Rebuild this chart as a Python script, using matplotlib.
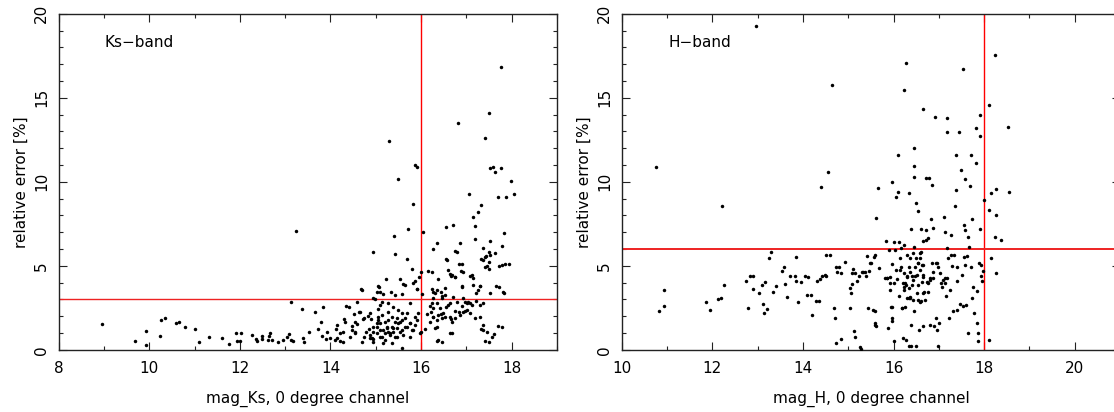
import matplotlib
matplotlib.use('Agg')
import matplotlib.pyplot as plt
from matplotlib.ticker import MultipleLocator

plt.rcParams['font.family'] = 'DejaVu Sans'
plt.rcParams['font.size'] = 11

# Ks-band: magnitude vs relative error [%]
ks_mag = [
    8.96, 9.69, 9.92, 9.94, 10.23, 10.25, 10.34, 10.59, 10.65, 10.80, 11.00, 11.10, 11.31, 11.60,
    11.76, 11.92, 11.94, 12.03, 12.00, 12.27, 12.35, 12.37, 12.49, 12.50, 12.63, 12.65, 12.67, 12.71,
    12.84, 12.96, 13.04, 13.08, 13.12, 13.14, 13.18, 13.25, 13.37, 13.40, 13.42, 13.53, 13.65, 13.73,
    13.80, 13.82, 13.84, 13.90, 13.93, 14.00, 14.12, 14.14, 14.20, 14.27, 14.29, 14.35, 14.43, 14.47,
    14.51, 14.55, 14.59, 14.63, 14.67, 14.71, 14.75, 14.78, 14.82, 14.86, 14.90, 14.93, 14.94, 14.98,
    15.02, 15.04, 15.06, 15.10, 15.14, 15.22, 15.30, 15.33, 15.40, 15.43, 15.49, 15.53, 15.57, 15.61,
    15.69, 15.71, 15.80, 15.83, 15.87, 15.92, 15.87, 15.92, 15.96, 16.00, 16.04, 16.02, 16.16, 16.24,
    16.27, 16.35, 16.37, 16.43, 16.47, 16.55, 16.55, 16.63, 16.67, 16.71, 16.75, 16.75, 16.81, 16.83,
    16.86, 16.88, 16.90, 17.06, 17.07, 17.14, 17.18, 17.20, 17.25, 17.29, 17.33, 17.33, 17.37, 17.41,
    17.43, 17.45, 17.49, 17.51, 17.53, 17.53, 17.59, 17.63, 17.65, 17.69, 17.73, 17.77, 17.77, 17.79,
    17.80, 17.83, 17.88, 17.86, 17.98, 18.04, 17.69, 17.61, 17.41, 17.33, 17.29, 17.22, 16.98, 16.90,
    16.83, 16.75, 16.67, 16.63, 16.55, 16.43, 16.35, 16.35, 16.27, 16.20, 16.12, 16.08, 16.00,
    14.70, 15.07, 15.17, 14.95, 14.58, 14.40, 15.10, 15.28, 15.43, 15.39, 15.50, 15.65, 15.83, 15.91,
    15.76, 15.68, 15.87, 15.54, 15.35, 15.20, 15.06, 14.95, 14.87, 14.73, 14.65, 14.54, 14.47, 14.32,
    14.21, 14.14, 14.10, 14.28, 14.54, 14.69, 14.91, 14.95, 15.02, 15.10, 15.13, 15.20, 15.24, 15.28,
    15.32, 15.35, 15.39, 15.43, 15.46, 15.50, 15.57, 15.61, 15.57, 15.68, 15.76, 15.79, 15.87, 15.91,
    15.94, 15.35, 14.87, 15.76, 15.98, 15.17, 15.02, 15.13, 15.28, 15.57, 15.65, 15.46,
    16.79, 17.41, 17.52, 17.63, 17.37, 17.49, 17.78, 17.93, 17.41, 17.49, 16.57, 16.90, 16.93, 16.60,
    16.68, 16.75, 17.12, 17.15, 16.53, 16.24, 16.35, 16.27, 16.31, 16.53, 16.90, 17.15, 17.30, 17.26,
    17.22, 17.52, 17.71, 17.82, 16.71, 16.93, 16.97, 17.01, 17.04, 17.08, 16.79, 16.64, 16.60, 16.46,
    16.24, 16.27, 16.42, 16.49, 16.38, 16.27, 16.35, 16.46, 16.53, 16.64, 16.68, 16.75, 16.86, 16.93,
    17.01, 17.08, 17.19, 17.37, 17.37, 17.37, 17.45, 17.49, 17.56, 17.78, 16.31, 16.38, 16.46, 16.68,
    16.20, 16.22, 16.27, 16.35, 17.12, 17.30,
    15.02, 15.10, 15.17, 15.24, 15.32, 15.39, 15.10, 15.20, 15.46, 15.54, 15.65, 15.76, 15.83, 14.95,
    14.87, 15.28, 15.43, 15.57, 15.06,
]
ks_err = [
    1.53, 0.50, 0.28, 1.09, 0.83, 1.78, 1.88, 1.57, 1.65, 1.33, 1.23, 0.44, 0.77, 0.67,
    0.36, 0.97, 0.50, 0.97, 0.50, 0.89, 0.63, 0.50, 0.83, 0.63, 0.60, 0.83, 0.99, 0.60,
    0.44, 0.60, 0.73, 0.93, 2.81, 0.60, 0.50, 7.08, 2.42, 0.67, 0.44, 1.03, 2.22, 1.23,
    1.63, 0.83, 2.52, 0.63, 1.03, 0.67, 1.23, 0.67, 0.54, 1.03, 1.82, 2.62, 0.73, 1.43,
    2.12, 1.03, 1.53, 2.22, 3.61, 1.82, 0.73, 1.03, 2.02, 1.23, 1.82, 5.79, 0.63, 3.00,
    3.41, 3.77, 2.42, 3.41, 2.81, 4.20, 12.43, 3.41, 6.78, 5.69, 10.15, 4.20, 3.31, 3.90,
    5.39, 7.18, 4.80, 8.66, 11.00, 10.88, 4.10, 3.61, 4.30, 4.60, 6.98, 3.31, 4.70, 3.61,
    5.99, 6.38, 4.20, 3.41, 3.21, 5.39, 7.28, 4.50, 4.40, 7.42, 4.30, 5.89, 13.50, 5.09,
    6.38, 4.70, 3.81, 9.26, 4.40, 7.87, 6.58, 7.38, 8.17, 3.81, 8.60, 5.39, 6.08, 12.63,
    5.59, 5.00, 5.79, 14.10, 6.48, 10.80, 10.90, 10.60, 3.77, 9.06, 5.00, 10.80, 16.85, 6.20,
    3.41, 6.94, 9.06, 5.09, 10.05, 9.26, 1.39, 0.93, 0.54, 1.23, 1.92, 2.91, 2.32, 2.62,
    2.22, 2.32, 1.82, 0.99, 2.52, 2.12, 1.33, 0.54, 1.92, 2.62, 2.12, 1.23, 1.03,
    3.55, 3.71, 3.31, 3.06, 2.86, 2.52, 2.66, 2.76, 3.26, 2.56, 2.36, 3.85, 3.99, 3.60,
    2.76, 2.17, 1.96, 1.67, 1.96, 1.67, 1.77, 1.37, 2.17, 1.87, 2.26, 1.67, 1.17, 1.67,
    0.98, 1.47, 0.58, 0.48, 0.98, 0.48, 0.68, 0.48, 0.98, 1.17, 0.77, 0.98, 1.27, 1.07,
    0.88, 1.37, 1.07, 0.77, 1.27, 1.57, 1.17, 0.88, 0.08, 1.37, 1.57, 1.17, 1.47, 1.77,
    2.17, 0.38, 0.88, 0.77, 0.98, 0.38, 1.57, 2.07, 2.26, 2.17, 1.87, 1.87,
    5.83, 5.54, 5.64, 5.74, 5.34, 5.24, 5.04, 5.10, 4.94, 4.79, 5.34, 5.10, 4.64, 4.74,
    4.45, 4.35, 4.45, 4.25, 3.65, 4.64, 3.55, 3.45, 3.36, 3.26, 3.71, 3.85, 3.79, 3.55,
    3.36, 3.36, 3.71, 3.36, 3.15, 3.06, 2.86, 2.80, 2.86, 2.80, 2.86, 2.76, 2.66, 3.06,
    2.76, 2.46, 2.46, 2.17, 2.07, 1.96, 1.77, 1.87, 1.96, 1.96, 1.67, 1.87, 2.07, 2.26,
    2.36, 2.17, 1.87, 2.80, 1.47, 1.17, 1.07, 0.48, 0.77, 1.37, 1.27, 0.58, 0.48, 0.98,
    1.67, 2.26, 3.06, 2.76, 2.66, 2.66,
    1.37, 1.57, 1.17, 1.37, 0.98, 1.27, 0.77, 0.58, 0.77, 1.07, 1.37, 1.57, 1.17, 1.07,
    0.68, 1.77, 1.67, 1.77, 1.96,
]

# H-band: magnitude vs relative error [%]
h_mag = [
    10.75, 10.83, 10.94, 10.94, 11.86, 11.94, 12.12, 12.20, 12.22, 12.26, 12.75, 12.79, 12.83, 12.89,
    12.89, 12.97, 13.03, 13.09, 13.11, 13.14, 13.16, 13.20, 13.24, 13.30, 13.33, 13.40, 13.54, 13.58,
    13.60, 13.65, 13.71, 13.83, 13.84, 13.85, 13.89, 13.95, 14.05, 14.09, 14.11, 14.17, 14.21, 14.28,
    14.32, 14.36, 14.38, 14.40, 14.43, 14.48, 14.50, 14.52, 14.56, 14.60, 14.64, 14.68, 14.70, 14.73,
    14.74, 14.75, 14.80, 14.83, 14.85, 14.93, 15.03, 15.04, 15.07, 15.08, 15.09, 15.11, 15.13, 15.15,
    15.16, 15.19, 15.23, 15.27, 15.29, 15.31, 15.33, 15.37, 15.39, 15.42, 15.44, 15.46, 15.48, 15.51,
    15.57, 15.58, 15.58, 15.60, 15.61, 15.62, 15.66, 15.68, 15.82, 15.83, 15.86, 15.87, 15.90, 15.92,
    15.93, 15.95, 15.96, 15.97, 15.97, 15.97, 16.00, 16.01, 16.03, 16.05, 16.05, 16.08, 16.09, 16.09,
    16.11, 16.13, 16.15, 16.16, 16.17, 16.19, 16.21, 16.21, 16.23, 16.23, 16.23, 16.25, 16.27, 16.27,
    16.28, 16.29, 16.30, 16.33, 16.33, 16.34, 16.37, 16.37, 16.38, 16.39, 16.39, 16.41, 16.42, 16.45,
    16.45, 16.45, 16.45, 16.46, 16.47, 16.49, 16.49, 16.50, 16.53, 16.55, 16.55, 16.56, 16.58, 16.60,
    16.60, 16.60, 16.63, 16.64, 16.64, 16.66, 16.66, 16.68, 16.71, 16.72, 16.72, 16.75, 16.76, 16.79,
    16.80, 16.80, 16.82, 16.84, 16.86, 16.88, 16.89, 16.92, 16.93, 16.94, 16.96, 16.98, 16.99, 17.01,
    17.04, 17.08, 17.11, 17.13, 17.14, 17.15, 17.17, 17.18, 17.19, 17.21, 17.23, 17.26, 17.27, 17.29,
    17.31, 17.33, 17.35, 17.37, 17.37, 17.39, 17.41, 17.41, 17.45, 17.47, 17.49, 17.51, 17.53, 17.53,
    17.55, 17.56, 17.57, 17.58, 17.58, 17.60, 17.62, 17.64, 17.65, 17.66, 17.68, 17.70, 17.70, 17.73,
    17.74, 17.76, 17.78, 17.81, 17.82, 17.84, 17.85, 17.86, 17.86, 17.89, 17.90, 17.90, 17.90, 17.94,
    17.94, 17.96, 17.98, 18.00, 18.10, 18.10, 18.11, 18.14, 18.14, 18.23, 18.25, 18.27, 18.27, 18.27,
    18.37, 18.53, 18.55,
    16.22, 16.29, 16.36, 16.44, 16.51, 16.59, 16.66, 16.73, 16.81, 16.25, 16.33, 16.22, 16.40, 16.55,
    16.62, 16.47, 16.55, 16.66, 16.59, 16.33, 16.14, 15.92, 15.85, 16.00, 17.10, 17.14, 17.17, 17.25,
    17.03, 16.88, 16.84, 16.95, 16.36, 16.44, 16.51, 16.66, 16.77, 16.59, 16.70, 16.29, 16.18, 15.96,
    15.59, 15.55,
]
h_err = [
    10.85, 2.32, 3.56, 2.63, 2.81, 2.38, 3.01, 3.07, 8.55, 3.86, 4.06, 2.51, 4.36, 4.36,
    3.64, 19.27, 3.35, 3.84, 2.73, 2.18, 4.04, 2.42, 5.45, 5.84, 3.45, 3.80, 4.71, 4.95,
    3.90, 3.11, 4.36, 4.36, 5.54, 4.06, 2.83, 4.02, 4.36, 3.23, 4.32, 3.23, 2.08, 2.87,
    4.10, 2.87, 4.22, 9.66, 4.36, 4.46, 5.66, 4.36, 10.59, 5.64, 15.74, 2.48, 1.88, 0.40,
    4.95, 4.61, 4.95, 0.63, 4.55, 5.21, 2.48, 3.70, 3.37, 4.55, 3.90, 4.79, 1.13, 0.75,
    4.59, 4.06, 4.36, 0.14, 0.04, 4.65, 4.65, 4.65, 4.36, 5.60, 2.51, 4.71, 5.15, 5.15,
    5.52, 5.64, 2.28, 1.58, 1.39, 7.82, 9.60, 4.89, 4.26, 6.50, 4.26, 1.29, 5.94, 4.00,
    3.56, 2.57, 1.88, 10.00, 5.11, 1.68, 6.44, 0.50, 5.94, 9.11, 4.75, 4.20, 9.37, 11.58,
    3.17, 6.44, 5.45, 4.95, 6.04, 2.48, 3.96, 0.69, 15.45, 6.24, 3.76, 2.57, 17.09, 3.86,
    0.59, 4.36, 5.64, 3.07, 0.24, 9.31, 5.45, 3.07, 1.49, 7.19, 0.20, 4.36, 5.78, 2.28,
    11.98, 10.95, 10.30, 6.14, 4.36, 8.71, 0.20, 5.45, 5.15, 8.28, 2.97, 1.19, 5.78, 5.84,
    2.87, 7.17, 5.05, 4.46, 1.39, 6.50, 14.30, 3.41, 6.53, 10.20, 7.13, 3.96, 6.63, 10.20,
    4.26, 1.49, 7.76, 9.80, 7.27, 4.26, 1.39, 13.86, 5.15, 1.88, 1.19, 4.95, 0.20, 1.58,
    3.96, 3.76, 7.92, 4.26, 6.99, 3.17, 13.80, 12.97, 6.04, 5.45, 1.88, 6.83, 5.64, 4.99,
    2.28, 5.64, 8.55, 9.50, 11.58, 4.06, 2.34, 4.95, 12.97, 2.71, 10.69, 4.46, 2.61, 16.73,
    5.50, 7.43, 7.13, 10.18, 5.05, 2.67, 5.58, 0.99, 6.69, 6.14, 9.74, 4.95, 11.60, 3.07,
    7.76, 3.76, 2.18, 13.17, 11.09, 3.47, 1.58, 0.99, 0.50, 5.15, 13.96, 7.17, 12.73, 5.05,
    4.36, 4.06, 4.71, 8.91, 14.55, 8.32, 0.59, 5.45, 9.31, 6.69, 17.52, 9.54, 8.02, 4.55,
    6.53, 13.23, 9.41,
    4.55, 4.35, 4.64, 4.15, 4.45, 4.74, 4.35, 4.05, 4.15, 3.95, 3.65, 3.55, 3.85, 3.85,
    4.05, 4.94, 5.14, 5.04, 5.44, 4.94, 4.74, 4.35, 4.25, 3.95, 4.15, 3.95, 4.25, 3.55,
    4.55, 4.64, 5.14, 5.14, 3.15, 2.96, 3.36, 3.36, 3.45, 2.86, 2.96, 3.06, 2.46, 2.56,
    1.47, 2.36,
]

panels = [
    dict(mag=ks_mag, err=ks_err, xlim=(8, 19), vline=16, hline=3, hlw=1.0, band='Ks\u2212band',
         xlabel='mag_Ks, 0 degree channel', left=58.6),
    dict(mag=h_mag, err=h_err, xlim=(10, 21), vline=18, hline=6, hlw=1.4, band='H\u2212band',
         xlabel='mag_H, 0 degree channel', left=621.7),
]

W, H = 1114, 412
fig = plt.figure(figsize=(W / 100, H / 100), dpi=100)

for p in panels:
    ax = fig.add_axes([p['left'] / W, (H - 349.7) / H, 498.4 / W, 336.0 / H])
    ax.plot(p['mag'], p['err'], 'o', ms=2.5, color='black', mec='none', zorder=3)
    ax.axvline(p['vline'], color='red', lw=1.0, zorder=2)
    ax.axhline(p['hline'], color='#ee2222', lw=p['hlw'], zorder=2)
    ax.set_xlim(*p['xlim'])
    ax.set_ylim(0, 20)
    ax.xaxis.set_major_locator(MultipleLocator(2))
    ax.xaxis.set_minor_locator(MultipleLocator(1))
    ax.yaxis.set_major_locator(MultipleLocator(5))
    ax.yaxis.set_minor_locator(MultipleLocator(1))
    ax.tick_params(which='both', direction='in', top=True, right=True, width=0.8, color='#222222')
    ax.tick_params(which='major', length=5.8)
    ax.tick_params(which='minor', length=2.9)
    ax.tick_params(axis='x', pad=8, labelsize=11)
    ax.tick_params(axis='y', pad=7, labelsize=11, labelrotation=90)
    for lab in ax.get_yticklabels():
        lab.set_verticalalignment('center')
    for s in ax.spines.values():
        s.set_linewidth(1.0)
        s.set_color('#222222')
    ax.set_xlabel(p['xlabel'], fontsize=11)
    ax.xaxis.set_label_coords(0.5, -0.123)
    ax.set_ylabel('relative error [%]', fontsize=11)
    ax.yaxis.set_label_coords(-0.06, 0.5)
    ax.text(0.093, 0.913, p['band'], transform=ax.transAxes, fontsize=11, va='center', ha='left')

fig.savefig('out.png', dpi=100)
